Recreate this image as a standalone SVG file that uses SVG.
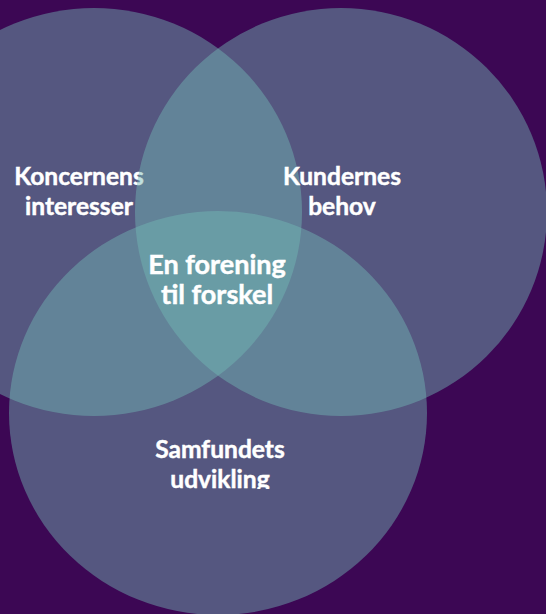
<svg xmlns="http://www.w3.org/2000/svg" width="546" height="614" viewBox="0 0 546 614">
  <defs>
    <style>
      .bg { fill: #3c0754; }
      .set { fill: #74bbb6; fill-opacity: 0.45; }
      .lbl { font-family: Lato, "Open Sans", "Liberation Sans", sans-serif; font-weight: bold; font-size: 24.6px; fill: #ffffff; stroke: #ffffff; stroke-width: 0.45; text-anchor: middle; }
      .big { font-size: 27px; }
    </style>
    <clipPath id="clipBottom">
      <rect x="0" y="0" width="546" height="489"/>
    </clipPath>
  </defs>
  <rect class="bg" x="0" y="0" width="546" height="614"/>
  <g id="connectors"></g>
  <g id="koncernens">
    <ellipse class="set" cx="94" cy="212" rx="208" ry="204"/>
    <text class="lbl" x="79" y="185">Koncernens</text>
    <text class="lbl" x="79" y="215">interesser</text>
  </g>
  <g id="kundernes">
    <ellipse class="set" cx="341" cy="212" rx="206" ry="204"/>
    <text class="lbl" x="342" y="185">Kundernes</text>
    <text class="lbl" x="342" y="215">behov</text>
  </g>
  <g id="samfundets">
    <ellipse class="set" cx="218" cy="413" rx="209" ry="202"/>
    <text class="lbl" x="220" y="458">Samfundets</text>
    <text class="lbl" x="220" y="488" clip-path="url(#clipBottom)">udvikling</text>
  </g>
  <g id="center">
    <text class="lbl big" x="217" y="274">En forening</text>
    <text class="lbl big" x="217" y="304">til forskel</text>
  </g>
</svg>
